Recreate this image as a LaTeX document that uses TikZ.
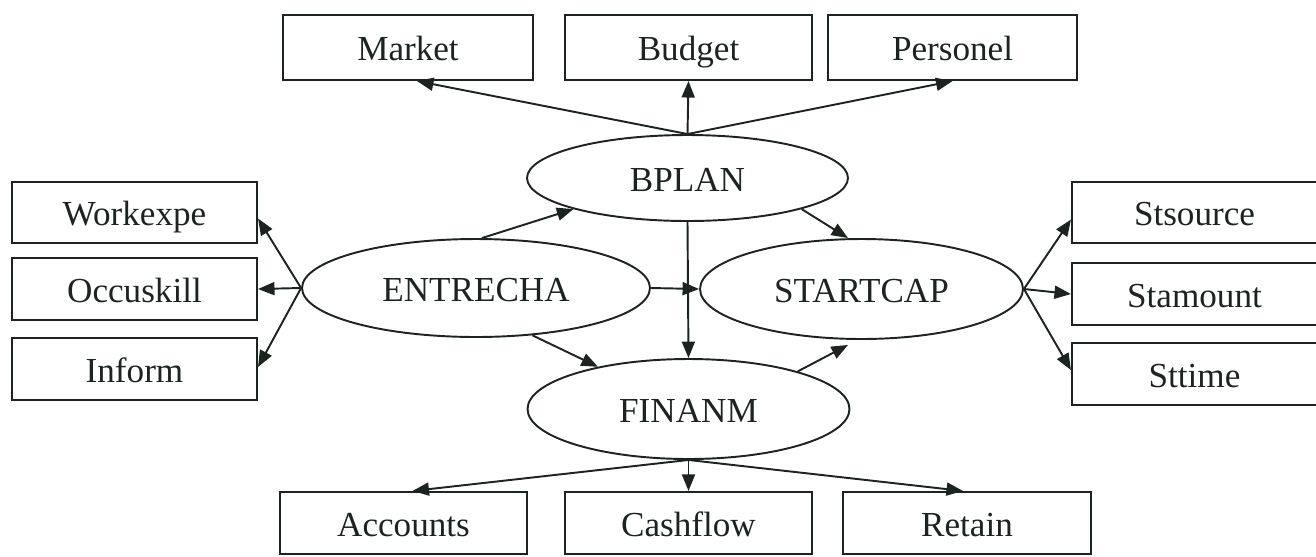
\documentclass[tikz,border=0pt]{standalone}
\usepackage{fontspec}
\setmainfont{Liberation Serif}
\usetikzlibrary{shapes.geometric,arrows.meta}
\definecolor{ink}{RGB}{28,36,32}
\begin{document}
\begin{tikzpicture}[x=0.02cm,y=-0.02cm,
  lbl/.style={text=ink, font=\fontsize{20}{24}\selectfont, text height=15pt, text depth=0pt},
  box/.style={lbl, draw=ink, line width=1.2pt, rectangle, inner sep=0pt, minimum height=1.24cm, minimum width=4.94cm},
  oval/.style={lbl, draw=ink, line width=1.1pt, ellipse, inner sep=0pt},
  arr/.style={draw=ink, line width=1.1pt, -{Triangle[length=0.33cm,width=0.26cm]}}]
\useasboundingbox (0,0) rectangle (1316,556);

% top boxes
\node[box, minimum width=5.0cm, minimum height=1.3cm] (market) at (408,47.5) {Market};
\node[box, minimum height=1.3cm] (budget) at (688.5,47.5) {Budget};
\node[box, minimum width=4.98cm, minimum height=1.3cm] (personel) at (952.5,47.5) {Personel};

% left boxes
\node[box, minimum width=4.9cm, minimum height=1.22cm] (workexpe) at (134.5,212.5) {Workexpe};
\node[box, minimum width=4.9cm] (occuskill) at (134.5,289) {Occuskill};
\node[box, minimum width=4.9cm] (inform) at (134.5,369) {Inform};

% right boxes
\node[box, minimum width=4.9cm, minimum height=1.22cm] (stsource) at (1194.5,212.5) {Stsource};
\node[box, minimum width=4.9cm] (stamount) at (1194.5,294) {Stamount};
\node[box, minimum width=4.9cm] (sttime) at (1194.5,374) {Sttime};

% bottom boxes
\node[box] (accounts) at (403.5,523) {Accounts};
\node[box] (cashflow) at (688.5,523) {Cashflow};
\node[box, minimum width=4.96cm] (retain) at (967,523) {Retain};

% ellipses
\node[oval, minimum width=6.42cm, minimum height=1.72cm] (bplan) at (687.5,178) {BPLAN};
\node[oval, minimum width=6.96cm, minimum height=1.96cm] (entrecha) at (476,288) {ENTRECHA};
\node[oval, minimum width=6.46cm, minimum height=2.0cm] (startcap) at (861.5,289) {STARTCAP};
\node[oval, minimum width=6.44cm, minimum height=2.0cm] (finanm) at (688.5,409) {FINANM};

% BPLAN to top boxes
\draw[arr] (bplan.north) -- ([xshift=0.18cm]market.south);
\draw[arr] (bplan.north) -- (budget.south);
\draw[arr] (bplan.north) -- (personel.south);

% ENTRECHA to left boxes
\draw[arr] (entrecha.west) -- ([yshift=-0.12cm]workexpe.east);
\draw[arr] (entrecha.west) -- (occuskill.east);
\draw[arr] (entrecha.west) -- ([yshift=0.04cm]inform.east);

% STARTCAP to right boxes
\draw[arr] (startcap.east) -- ([yshift=-0.14cm]stsource.west);
\draw[arr] (startcap.east) -- (stamount.west);
\draw[arr] (startcap.east) -- ([yshift=0.08cm]sttime.west);

% FINANM to bottom boxes
\draw[arr] (finanm.south) -- ([xshift=0.18cm]accounts.north);
\draw[arr] (finanm.south) -- (cashflow.north);
\draw[arr] (finanm.south) -- ([xshift=-0.08cm]retain.north);

% among ellipses
\draw[arr] ([xshift=0.12cm]entrecha.north) -- (bplan.south west);
\draw[arr] (bplan.south east) -- ([xshift=-0.27cm]startcap.north);
\draw[arr] (bplan.south) -- (finanm.north);
\draw[arr] (entrecha.east) -- (startcap.west);
\draw[arr] (entrecha.-40) -- (finanm.155);
\draw[arr] (finanm.19) -- ([xshift=-0.27cm,yshift=-0.1cm]startcap.south);
\end{tikzpicture}
\end{document}
